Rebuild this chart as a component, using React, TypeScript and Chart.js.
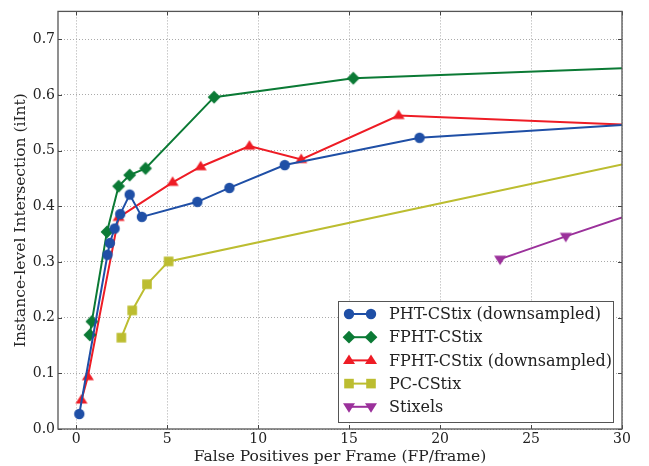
import React, { useEffect, useRef } from 'react';
import { Chart, registerables } from 'chart.js';

Chart.register(...registerables);

const seriesNames = [
  'PHT-CStix (downsampled)',
  'FPHT-CStix',
  'FPHT-CStix (downsampled)',
  'PC-CStix',
  'Stixels',
];
const seriesColors = ['#1f4fa6', '#0b7a35', '#ee1c25', '#bcbd30', '#9b319b'];
const seriesMarkers = ['circle', 'diamond', 'triangle', 'square', 'triangleDown'];

const phtX = [0.17, 1.72, 1.85, 2.11, 2.42, 2.94, 3.61, 6.66, 8.42, 11.46, 18.87, 30];
const phtY = [0.027, 0.313, 0.334, 0.36, 0.386, 0.421, 0.381, 0.408, 0.433, 0.474, 0.523, 0.546];

const fphtX = [0.75, 0.86, 1.69, 2.33, 2.94, 3.81, 7.58, 15.23, 30];
const fphtY = [0.169, 0.193, 0.354, 0.436, 0.456, 0.468, 0.596, 0.63, 0.648];

const fphtDsX = [0.29, 0.64, 2.33, 5.3, 6.84, 9.52, 12.37, 17.72, 30];
const fphtDsY = [0.052, 0.094, 0.38, 0.443, 0.471, 0.508, 0.484, 0.563, 0.547];

const pcX = [2.48, 3.08, 3.89, 5.08, 30];
const pcY = [0.164, 0.213, 0.26, 0.301, 0.475];

const stixelsX = [23.3, 26.91, 30];
const stixelsY = [0.305, 0.346, 0.38];

const xTicks = [0, 5, 10, 15, 20, 25, 30];
const yTicks = [0, 0.1, 0.2, 0.3, 0.4, 0.5, 0.6, 0.7];

const X_MIN = -1;
const X_MAX = 30;
const Y_MIN = 0;
const Y_MAX = 0.75;

const FONT = '"DejaVu Serif", serif';

function markerPath(ctx: CanvasRenderingContext2D, kind: string, x: number, y: number) {
  ctx.beginPath();
  if (kind === 'circle') {
    ctx.arc(x, y, 5.2, 0, Math.PI * 2);
  } else if (kind === 'diamond') {
    const r = 6.4;
    ctx.moveTo(x, y - r);
    ctx.lineTo(x + r, y);
    ctx.lineTo(x, y + r);
    ctx.lineTo(x - r, y);
    ctx.closePath();
  } else if (kind === 'triangle') {
    const r = 6;
    ctx.moveTo(x, y - r);
    ctx.lineTo(x + r, y + r * 0.6);
    ctx.lineTo(x - r, y + r * 0.6);
    ctx.closePath();
  } else if (kind === 'triangleDown') {
    const r = 6;
    ctx.moveTo(x, y + r);
    ctx.lineTo(x + r, y - r * 0.6);
    ctx.lineTo(x - r, y - r * 0.6);
    ctx.closePath();
  } else {
    const s = 4.8;
    ctx.rect(x - s, y - s, 2 * s, 2 * s);
  }
}

function makeMarkerCanvas(kind: string, color: string): HTMLCanvasElement {
  const c = document.createElement('canvas');
  c.width = 16;
  c.height = 16;
  const g = c.getContext('2d')!;
  g.fillStyle = color;
  markerPath(g, kind, 8, 8);
  g.fill();
  return c;
}

const framePlugin = {
  id: 'frameAndLegend',
  afterDraw(chart: any) {
    const { ctx, chartArea } = chart;
    const { left, right, top, bottom } = chartArea;
    const xs = chart.scales.x;
    const ys = chart.scales.y;
    ctx.save();
    ctx.strokeStyle = '#444';
    ctx.lineWidth = 1;
    ctx.beginPath();
    xTicks.forEach((t) => {
      const px = Math.round(xs.getPixelForValue(t)) + 0.5;
      ctx.moveTo(px, bottom);
      ctx.lineTo(px, bottom - 4);
      ctx.moveTo(px, top);
      ctx.lineTo(px, top + 4);
    });
    yTicks.forEach((t) => {
      const py = Math.round(ys.getPixelForValue(t)) + 0.5;
      ctx.moveTo(left, py);
      ctx.lineTo(left + 4, py);
      ctx.moveTo(right, py);
      ctx.lineTo(right - 4, py);
    });
    ctx.stroke();
    ctx.strokeStyle = '#555';
    ctx.lineWidth = 1.3;
    ctx.strokeRect(left, top, right - left, bottom - top);

    const bx = 338, by = 301, bw = 275, bh = 121;
    ctx.fillStyle = '#ffffff';
    ctx.fillRect(bx, by, bw, bh);
    ctx.strokeStyle = '#555';
    ctx.lineWidth = 1;
    ctx.strokeRect(bx + 0.5, by + 0.5, bw, bh);
    chart.data.datasets.forEach((ds: any, i: number) => {
      const cy = 314 + i * 23.2;
      const color = ds.borderColor;
      ctx.strokeStyle = color;
      ctx.lineWidth = 2;
      ctx.beginPath();
      ctx.moveTo(349, cy);
      ctx.lineTo(371, cy);
      ctx.stroke();
      ctx.fillStyle = color;
      markerPath(ctx, seriesMarkers[i], 349, cy);
      ctx.fill();
      markerPath(ctx, seriesMarkers[i], 371, cy);
      ctx.fill();
      ctx.fillStyle = '#222';
      ctx.font = `16px ${FONT}`;
      ctx.textBaseline = 'middle';
      ctx.textAlign = 'left';
      ctx.fillText(ds.label, 389, cy + 1);
    });
    ctx.restore();
  },
};

export default function App() {
  const ref = useRef<HTMLCanvasElement | null>(null);
  useEffect(() => {
    if (!ref.current) return;
    const xsArr = [phtX, fphtX, fphtDsX, pcX, stixelsX];
    const ysArr = [phtY, fphtY, fphtDsY, pcY, stixelsY];
    const datasets = seriesNames.map((name, i) => ({
      label: name,
      data: xsArr[i].map((x, j) => ({ x, y: ysArr[i][j] })),
      borderColor: seriesColors[i],
      backgroundColor: seriesColors[i],
      borderWidth: 2,
      showLine: true,
      pointStyle: makeMarkerCanvas(seriesMarkers[i], seriesColors[i]),
      pointRadius: (c: any) => (c.raw && c.raw.x >= X_MAX ? 0 : 6),
      pointHoverRadius: 0,
      tension: 0,
    }));
    const chart = new Chart(ref.current, {
      type: 'scatter',
      data: { datasets },
      options: {
        animation: false,
        responsive: false,
        maintainAspectRatio: false,
        events: [],
        layout: { padding: { top: 10, right: 27, left: 0, bottom: 0 } },
        plugins: {
          legend: { display: false },
          tooltip: { enabled: false },
        },
        scales: {
          x: {
            type: 'linear',
            min: X_MIN,
            max: X_MAX,
            afterFit: (s: any) => {
              s.height = 37;
            },
            afterBuildTicks: (s: any) => {
              s.ticks = xTicks.map((v) => ({ value: v }));
            },
            ticks: {
              color: '#222',
              font: { family: FONT, size: 14 },
              padding: 1.5,
              maxRotation: 0,
              callback: (v: any) => String(v),
            },
            grid: { color: '#aaa', lineWidth: 1, drawTicks: false },
            border: { display: false, dash: [1, 2] },
            title: {
              display: true,
              text: 'False Positives per Frame (FP/frame)',
              color: '#222',
              font: { family: FONT, size: 15.5 },
              padding: { top: 0, bottom: 0 },
            },
          },
          y: {
            type: 'linear',
            min: Y_MIN,
            max: Y_MAX,
            afterFit: (s: any) => {
              s.width = 58;
            },
            afterBuildTicks: (s: any) => {
              s.ticks = yTicks.map((v) => ({ value: v }));
            },
            ticks: {
              color: '#222',
              font: { family: FONT, size: 14 },
              padding: 3,
              callback: (v: any) => Number(v).toFixed(1),
            },
            grid: { color: '#aaa', lineWidth: 1, drawTicks: false },
            border: { display: false, dash: [1, 2] },
            title: {
              display: true,
              text: 'Instance-level Intersection (iInt)',
              color: '#222',
              font: { family: FONT, size: 15.5 },
              padding: { top: 11.7, bottom: 0 },
            },
          },
        },
      },
      plugins: [framePlugin],
    });
    return () => chart.destroy();
  }, []);
  return (
    <div style={{ position: 'absolute', left: 0, top: 0, width: 649, height: 466, background: '#fff' }}>
      <canvas ref={ref} width={649} height={466} style={{ display: 'block' }} />
    </div>
  );
}
